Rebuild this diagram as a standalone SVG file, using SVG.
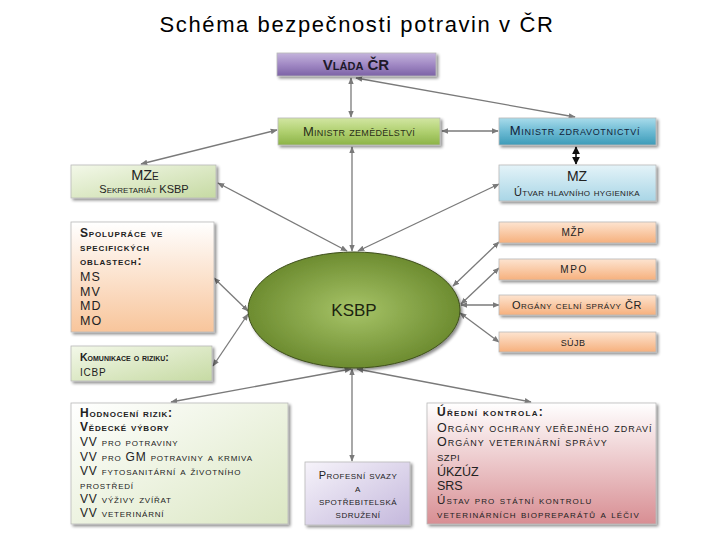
<svg xmlns="http://www.w3.org/2000/svg" width="720" height="540" viewBox="0 0 720 540">
<defs>
<linearGradient id="gPurple" x1="0" y1="0" x2="0" y2="1"><stop offset="0" stop-color="#c4b4dc"/><stop offset="0.5" stop-color="#a189c4"/><stop offset="1" stop-color="#7c62a6"/></linearGradient>
<linearGradient id="gGreen" x1="0" y1="0" x2="0" y2="1"><stop offset="0" stop-color="#d2e6a2"/><stop offset="0.5" stop-color="#b0d070"/><stop offset="1" stop-color="#8cb347"/></linearGradient>
<linearGradient id="gBlue" x1="0" y1="0" x2="0" y2="1"><stop offset="0" stop-color="#a9dceb"/><stop offset="0.5" stop-color="#6cbad3"/><stop offset="1" stop-color="#3d9bb8"/></linearGradient>
<linearGradient id="gLBlue" x1="0" y1="0" x2="0" y2="1"><stop offset="0" stop-color="#e4f3f8"/><stop offset="1" stop-color="#a9d6e6"/></linearGradient>
<linearGradient id="gLGreen" x1="0" y1="0" x2="1" y2="1"><stop offset="0" stop-color="#f3f8e9"/><stop offset="1" stop-color="#c6daa3"/></linearGradient>
<linearGradient id="gPeach" x1="0" y1="0" x2="0" y2="1"><stop offset="0" stop-color="#ffffff"/><stop offset="1" stop-color="#f8c59b"/></linearGradient>
<linearGradient id="gOrange" x1="0" y1="0" x2="0" y2="1"><stop offset="0" stop-color="#fde4d0"/><stop offset="1" stop-color="#f6b07d"/></linearGradient>
<linearGradient id="gHod" x1="0" y1="0" x2="1" y2="1"><stop offset="0" stop-color="#ffffff"/><stop offset="1" stop-color="#dbe7c3"/></linearGradient>
<linearGradient id="gLav" x1="0" y1="0" x2="1" y2="1"><stop offset="0" stop-color="#f6f3fa"/><stop offset="1" stop-color="#c4b8dc"/></linearGradient>
<linearGradient id="gPink" x1="0" y1="0" x2="0" y2="1"><stop offset="0" stop-color="#ffffff"/><stop offset="1" stop-color="#d88e93"/></linearGradient>
<radialGradient id="gEll" cx="0.5" cy="0.5" r="0.5"><stop offset="0" stop-color="#a7c468"/><stop offset="1" stop-color="#6d8c30"/></radialGradient>
<filter id="sh" x="-10%" y="-10%" width="130%" height="140%"><feGaussianBlur in="SourceAlpha" stdDeviation="1.5"/><feOffset dx="1.5" dy="2" result="b"/><feComponentTransfer><feFuncA type="linear" slope="0.45"/></feComponentTransfer><feMerge><feMergeNode/><feMergeNode in="SourceGraphic"/></feMerge></filter>
<marker id="a" viewBox="0 0 10 10" refX="9" refY="5" markerWidth="7" markerHeight="7" orient="auto-start-reverse" markerUnits="userSpaceOnUse"><path d="M0,1 L10,5 L0,9 z" fill="#7a7a7a"/></marker>
<marker id="ab" viewBox="0 0 10 10" refX="9" refY="5" markerWidth="8" markerHeight="8" orient="auto-start-reverse" markerUnits="userSpaceOnUse"><path d="M0,0 L10,5 L0,10 z" fill="#111"/></marker>
</defs>
<style>
text{font-family:"Liberation Sans",Arial,sans-serif;fill:#222;}
.sc{font-variant:small-caps;}
.box{stroke:#b9b9b9;stroke-width:0.8;filter:url(#sh);}
.c{fill:none;stroke:#7a7a7a;stroke-width:1.3;marker-start:url(#a);marker-end:url(#a);}
.b{font-weight:bold;}
.h{font-size:12px;letter-spacing:0.8px;font-variant:small-caps;}
.u{font-size:12.5px;letter-spacing:1px;font-variant:small-caps;}
.u2{font-size:11.5px;letter-spacing:1.1px;font-variant:small-caps;}
.p{font-size:11px;letter-spacing:0.5px;font-variant:small-caps;}
.m{font-size:12.5px;letter-spacing:1px;}
</style>
<rect width="720" height="540" fill="#ffffff"/>
<text x="357" y="32" text-anchor="middle" style="font-size:22px;letter-spacing:1.6px;fill:#000">Schéma bezpečnosti potravin v ČR</text>

<g id="connectors">
<line class="c" x1="351" y1="78" x2="351" y2="117"/>
<line class="c" x1="356" y1="78" x2="575" y2="117"/>
<line class="c" x1="442" y1="131" x2="498" y2="131"/>
<line class="c" x1="277" y1="130" x2="141" y2="164"/>
<line x1="576" y1="147" x2="576" y2="164" stroke="#111" stroke-width="1.6" marker-start="url(#ab)" marker-end="url(#ab)"/>
<line class="c" x1="352" y1="251" x2="352" y2="147"/>
<line class="c" x1="347" y1="251" x2="218" y2="183"/>
<line class="c" x1="358" y1="251" x2="499" y2="184"/>
<line class="c" x1="248" y1="311" x2="214" y2="278"/>
<line class="c" x1="248" y1="314" x2="213" y2="366"/>
<line class="c" x1="453" y1="286" x2="499" y2="242"/>
<line class="c" x1="461" y1="304" x2="499" y2="268"/>
<line class="c" x1="461" y1="305" x2="499" y2="305"/>
<line class="c" x1="460" y1="313" x2="499" y2="342"/>
<line class="c" x1="351" y1="369" x2="171" y2="402"/>
<line class="c" x1="357" y1="369" x2="531" y2="402"/>
<line class="c" x1="352" y1="369" x2="352" y2="461"/>
</g>

<g id="vlada"><rect class="box" x="277" y="53" width="159" height="23" fill="url(#gPurple)"/><text x="356" y="70" text-anchor="middle" class="sc b" style="font-size:15px;fill:#1e1a2a">Vláda ČR</text></g>
<g id="min-zem"><rect class="box" x="278" y="118" width="162" height="27" fill="url(#gGreen)"/><text x="359" y="136" text-anchor="middle" class="sc" style="font-size:13px;letter-spacing:0.3px;fill:#2a2f18">Ministr zemědělství</text></g>
<g id="min-zdr"><rect class="box" x="499" y="118" width="157" height="27" fill="url(#gBlue)"/><text x="575" y="135" text-anchor="middle" class="sc" style="font-size:13px;letter-spacing:0.7px;fill:#10233a">Ministr zdravotnictví</text></g>
<g id="mz"><rect class="box" x="499" y="165" width="157" height="36" fill="url(#gLBlue)"/><text x="577" y="181" text-anchor="middle" style="font-size:14px">MZ</text><text x="577" y="196" text-anchor="middle" class="sc" style="font-size:11px;letter-spacing:0.3px">Útvar hlavního hygienika</text></g>
<g id="mze"><rect class="box" x="71" y="165" width="145" height="33" fill="url(#gLGreen)"/><text x="145" y="180" text-anchor="middle" class="sc" style="font-size:14.5px">MZe</text><text x="144" y="193" text-anchor="middle" class="sc" style="font-size:11px">Sekretariát KSBP</text></g>
<g id="spoluprace"><rect class="box" x="71" y="222" width="143" height="110" fill="url(#gPeach)"/>
<text x="80" y="237" class="sc b" style="font-size:12px;letter-spacing:0.85px">Spolupráce ve</text>
<text x="80" y="251" class="sc b" style="font-size:12px;letter-spacing:0.85px">specifických</text>
<text x="80" y="265" class="sc b" style="font-size:12px;letter-spacing:0.85px">oblastech:</text>
<text x="80" y="281" class="m">MS</text><text x="80" y="296" class="m">MV</text><text x="80" y="310" class="m">MD</text><text x="80" y="325" class="m">MO</text></g>
<g id="komunikace"><rect class="box" x="71" y="346" width="141" height="35" fill="url(#gLGreen)"/><text x="80" y="361" class="sc b" style="font-size:10.5px">Komunikace o riziku:</text><text x="80" y="376" style="font-size:10px;letter-spacing:0.8px">ICBP</text></g>
<g id="mzp"><rect class="box" x="499" y="222" width="157" height="21" fill="url(#gOrange)"/><text x="573" y="236" text-anchor="middle" style="font-size:10px;letter-spacing:0.6px">MŽP</text></g>
<g id="mpo"><rect class="box" x="499" y="259" width="157" height="21" fill="url(#gOrange)"/><text x="574" y="273" text-anchor="middle" style="font-size:10px;letter-spacing:1.6px">MPO</text></g>
<g id="celni"><rect class="box" x="499" y="295" width="157" height="20" fill="url(#gOrange)"/><text x="577" y="309" text-anchor="middle" class="sc" style="font-size:11px;letter-spacing:0.55px">Orgány celní správy ČR</text></g>
<g id="sujb"><rect class="box" x="499" y="332" width="157" height="20" fill="url(#gOrange)"/><text x="573" y="346" text-anchor="middle" style="font-size:9px;letter-spacing:0.4px">SÚJB</text></g>
<g id="ksbp"><ellipse cx="354" cy="310" rx="106" ry="58" fill="url(#gEll)" stroke="#3f4f1c" stroke-width="1" filter="url(#sh)"/><text x="354" y="316" text-anchor="middle" style="font-size:17px;fill:#1c2410">KSBP</text></g>
<g id="hodnoceni"><rect class="box" x="71" y="403" width="217" height="121" fill="url(#gHod)"/>
<text x="80" y="417" class="h b">Hodnocení rizik:</text>
<text x="80" y="431" class="h b">Vědecké výbory</text>
<text x="80" y="446" class="h">VV pro potraviny</text>
<text x="80" y="461" class="h">VV pro GM potraviny a krmiva</text>
<text x="80" y="475" class="h">VV fytosanitární a životního</text>
<text x="80" y="489" class="h">prostředí</text>
<text x="80" y="503" class="h">VV výživy zvířat</text>
<text x="80" y="517" class="h">VV veterinární</text></g>
<g id="profesni"><rect class="box" x="305" y="462" width="105" height="63" fill="url(#gLav)"/>
<text x="358" y="479" text-anchor="middle" class="p">Profesní svazy</text>
<text x="358" y="492" text-anchor="middle" class="p">a</text>
<text x="358" y="505" text-anchor="middle" class="p">spotřebitelská</text>
<text x="358" y="518" text-anchor="middle" class="p">sdružení</text></g>
<g id="uredni"><rect class="box" x="427" y="403" width="229" height="121" fill="url(#gPink)"/>
<text x="437" y="416" class="sc b" style="font-size:12px;letter-spacing:1.3px">Úřední kontrola:</text>
<text x="437" y="432" class="u">Orgány ochrany veřejného zdraví</text>
<text x="437" y="446" class="u">Orgány veterinární správy</text>
<text x="437" y="461" style="font-size:9.5px;letter-spacing:0.5px">SZPI</text>
<text x="437" y="476" style="font-size:12.5px">ÚKZÚZ</text>
<text x="437" y="490" style="font-size:12.5px">SRS</text>
<text x="437" y="504" class="u2">Ústav pro státní kontrolu</text>
<text x="437" y="518" class="u2">veterinárních biopreparátů a léčiv</text></g>
</svg>
